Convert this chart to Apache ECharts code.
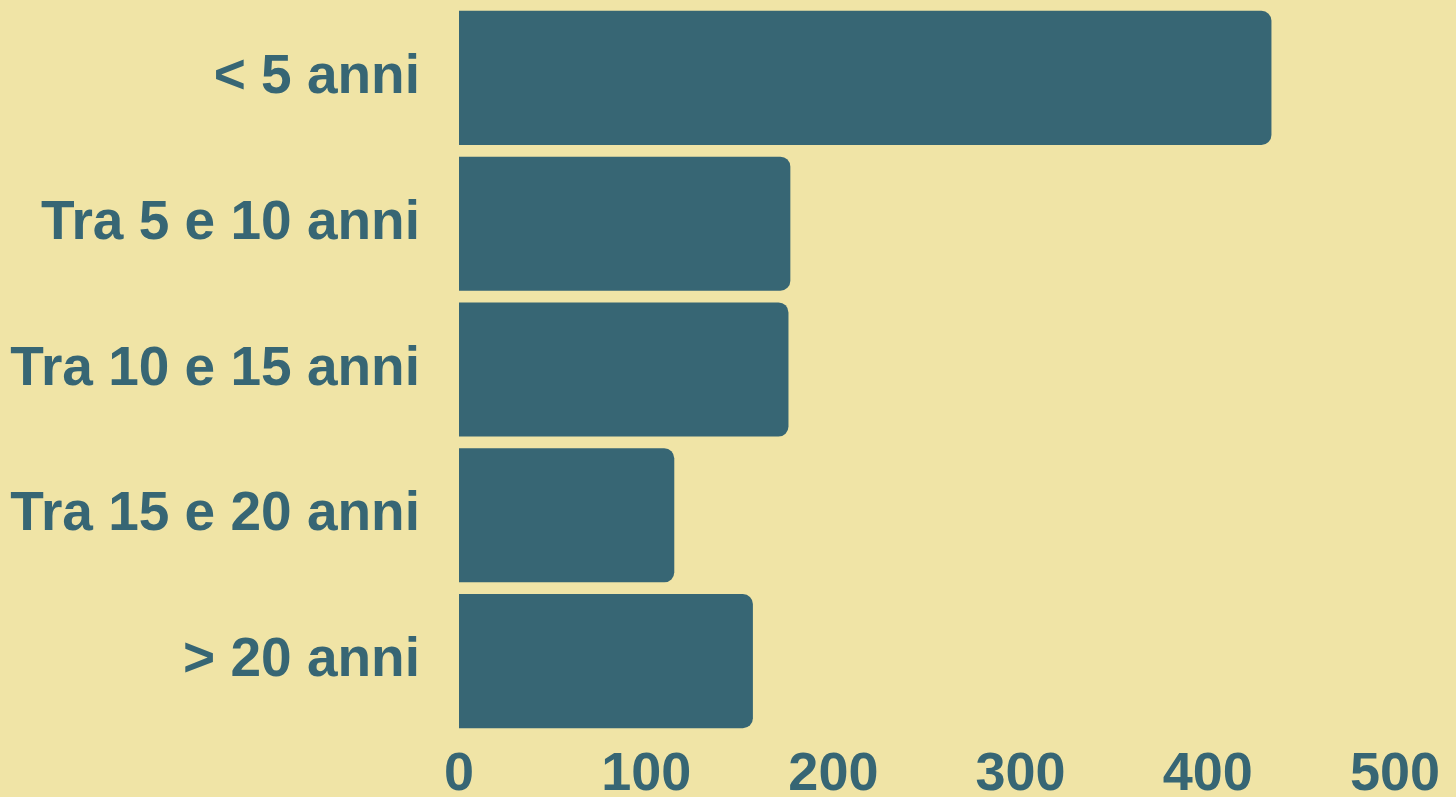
<!DOCTYPE html>
<html>
<head>
<meta charset="utf-8">
<script src="https://cdn.jsdelivr.net/npm/echarts@6/dist/echarts.min.js"></script>
<style>
html,body{margin:0;padding:0;background:#f0e4a6;}
#chart{width:1456px;height:797px;}
</style>
</head>
<body>
<div id="chart"></div>
<script>
const categories = ['< 5 anni', 'Tra 5 e 10 anni', 'Tra 10 e 15 anni', 'Tra 15 e 20 anni', '> 20 anni'];
const values = [434, 177, 176, 115, 157];
const xTicks = [0, 100, 200, 300, 400, 500];

const chart = echarts.init(document.getElementById('chart'));
const textColor = '#376674';
chart.setOption({
  backgroundColor: '#f0e4a6',
  animation: false,
  grid: { left: 459, right: 61, top: 5, bottom: 63, containLabel: false, outerBoundsMode: 'none' },
  xAxis: {
    type: 'value',
    min: xTicks[0],
    max: xTicks[xTicks.length - 1],
    interval: 100,
    splitLine: { show: false },
    axisLine: { show: false },
    axisTick: { show: false },
    axisLabel: {
      color: textColor,
      fontFamily: 'Liberation Sans',
      fontWeight: 'bold',
      fontSize: 54,
      margin: 14,
      hideOverlap: false
    }
  },
  yAxis: {
    type: 'category',
    data: categories,
    inverse: true,
    axisLine: { show: false },
    axisTick: { show: false },
    axisLabel: {
      color: textColor,
      fontFamily: 'Liberation Sans',
      fontWeight: 'bold',
      fontSize: 55,
      margin: 39,
      padding: [8, 0, 0, 0]
    }
  },
  series: [{
    type: 'bar',
    data: values,
    barCategoryGap: '8%',
    itemStyle: { color: '#376674', borderRadius: [0, 10, 10, 0] }
  }]
});
</script>
</body>
</html>
